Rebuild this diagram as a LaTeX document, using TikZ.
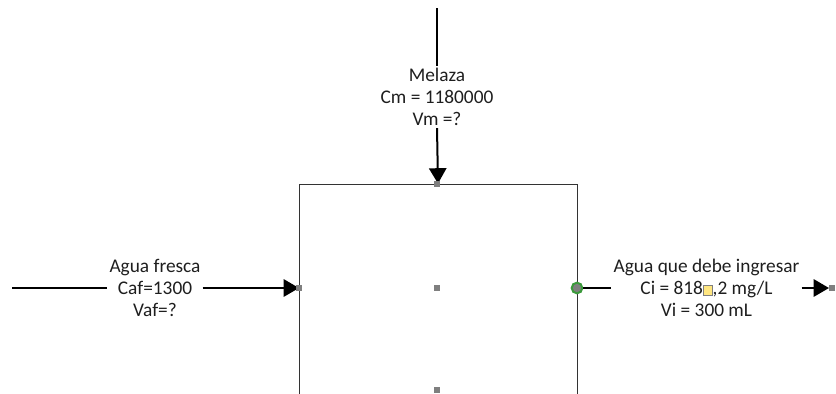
\documentclass[tikz,border=0pt]{standalone}
\usepackage{fontspec}
\setmainfont{Carlito}
\usetikzlibrary{arrows.meta}
\definecolor{txt}{HTML}{1E1E1E}
\definecolor{hgray}{HTML}{7F7F7F}
\definecolor{boxc}{HTML}{333333}
\definecolor{gring}{HTML}{3C9A3C}
\definecolor{ylw}{HTML}{FFE680}
\newcommand{\ybox}{{\setlength\fboxsep{0pt}\setlength\fboxrule{0.4pt}\fcolorbox{hgray}{ylw}{\rule{0pt}{6.5pt}\hspace{6.5pt}}}}
\begin{document}
\begin{tikzpicture}[x=0.75pt,y=-0.75pt,
  lbl/.style={font=\fontsize{14.5}{16.5}\selectfont, align=center, inner sep=1.5pt, text=txt},
  flow/.style={line width=1.5pt, draw=black},
  arr/.style={flow, -{Triangle[length=11.5pt,width=13pt]}},
  handle/.style={rectangle, fill=hgray, draw=none, minimum size=5pt, inner sep=0pt}]
\useasboundingbox (0,0) rectangle (836,393);
% main box (extends below the picture)
\node[draw=boxc, line width=0.7pt, minimum width=208.5pt, minimum height=177pt, inner sep=0pt] (box) at (438,302) {};
% labels
\node[lbl] (mel) at (437,97) {Melaza\\Cm = 1180000\\Vm =?};
\node[lbl] (af) at (155,288) {Agua fresca\\Caf=1300\\Vaf=?};
\node[lbl] (ai) at (706.5,288) {Agua que debe ingresar\\Ci = 818\ybox,2 mg/L\\Vi = 300 mL};
% coordinates
\coordinate (mtop) at (437,8);
\coordinate (lstart) at (12,288);
\coordinate (lin) at (299,288);
\coordinate (rend) at (829,288);
% connectors
\draw[flow] (mtop) -- (mel.north);
\draw[arr] (mel.south) -- (box.north);
\draw[flow] (lstart) -- (af.west);
\draw[arr] (af.east) -- (lin);
\node[circle, fill=hgray, draw=gring, line width=1.5pt, minimum size=8pt, inner sep=0pt] (gd) at (577,288) {};
\draw[flow] (gd.east) -- (ai.west);
\draw[arr] (ai.east) -- (rend);
% handles
\node[handle] (h1) at (437,184) {};
\node[handle] (h2) at (299,288) {};
\node[handle] (h3) at (437,288) {};
\node[handle] (h4) at (437,390) {};
\node[handle] (h5) at (832,288) {};
\end{tikzpicture}
\end{document}
